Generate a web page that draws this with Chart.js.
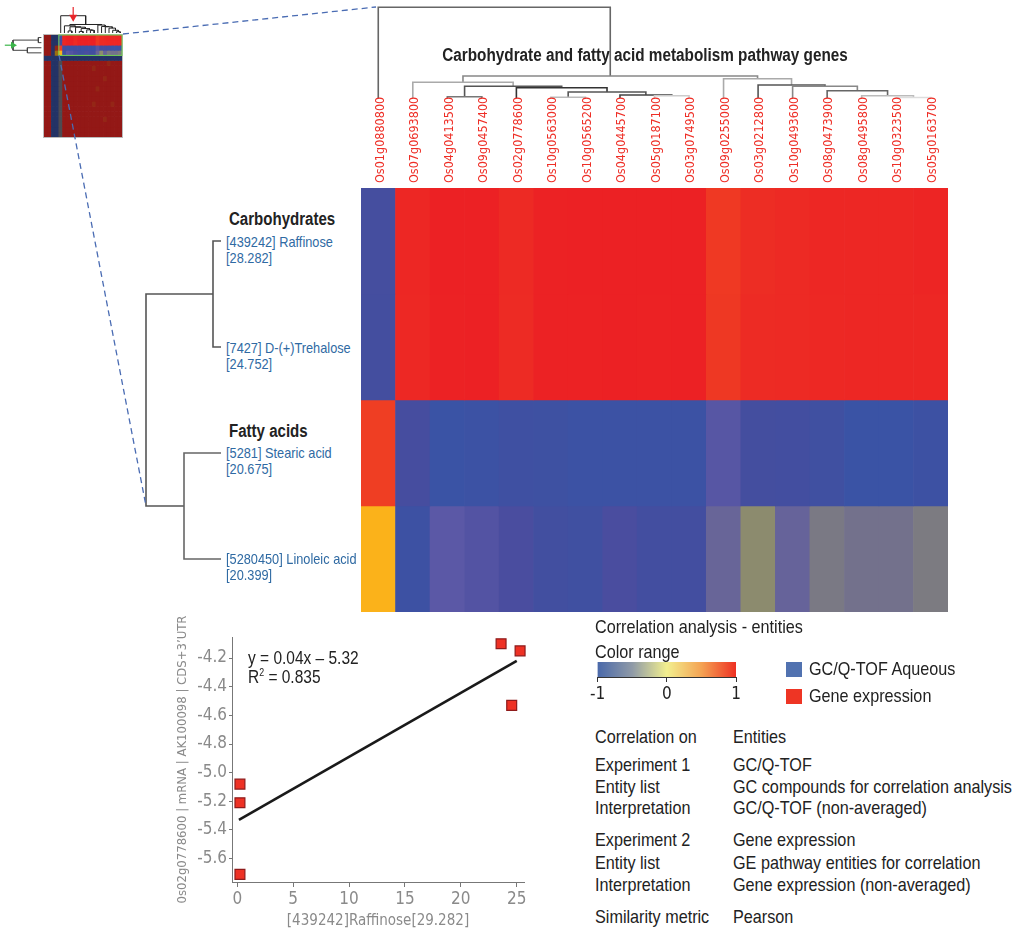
<!DOCTYPE html>
<html>
<head>
<meta charset="utf-8">
<script src="https://cdn.jsdelivr.net/npm/chart.js@4.4.1/dist/chart.umd.min.js"></script>
<style>
  html, body { margin: 0; padding: 0; background: #fff; }
  #page { position: relative; width: 1014px; height: 932px; overflow: hidden;
          font-family: "Liberation Sans", Arial, sans-serif; color: #222; }
  canvas { position: absolute; }
  /* Arial squeezed horizontally looks like the narrow face used in the original */
  .t { position: absolute; white-space: nowrap; line-height: 1;
       transform: translateY(-50%) scaleX(0.885); transform-origin: 0 50%; }
  .ttl { font-weight: bold; font-size: 18px; color: #222;
         transform: translate(-50%, -50%) scaleX(0.85); transform-origin: 50% 50%; }
  .grp { font-weight: bold; font-size: 17.5px; color: #222; transform: translateY(-50%) scaleX(0.86); }
  .cmp { font-size: 14.5px; color: #2f6aa3; transform: translateY(-50%) scaleX(0.88); }
  .info { font-size: 18.5px; color: #222; transform: translateY(-50%) scaleX(0.875); }
  .eq { font-size: 17.5px; color: #222; }
  .sw { position: absolute; width: 16px; height: 15px; }
</style>
</head>
<body>
<div id="page">
  <canvas id="thumb"   width="130" height="142" style="left:0px;top:0px"></canvas>
  <canvas id="colTree" width="600" height="102" style="left:355px;top:0px"></canvas>
  <canvas id="heat"    width="600" height="530" style="left:355px;top:90px"></canvas>
  <canvas id="rowTree" width="86"  height="424" style="left:138px;top:188px"></canvas>
  <canvas id="scatter" width="380" height="320" style="left:160px;top:610px"></canvas>
  <canvas id="cbar"    width="160" height="50"  style="left:588px;top:655px"></canvas>

  <div class="t ttl" style="left:645px;top:55px">Carbohydrate and fatty acid metabolism pathway genes</div>

  <div class="t grp" style="left:229px;top:220px">Carbohydrates</div>
  <div class="t cmp" style="left:226px;top:242px">[439242] Raffinose</div>
  <div class="t cmp" style="left:226px;top:258px">[28.282]</div>
  <div class="t cmp" style="left:226px;top:348px">[7427] D-(+)Trehalose</div>
  <div class="t cmp" style="left:226px;top:364px">[24.752]</div>
  <div class="t grp" style="left:229px;top:432px">Fatty acids</div>
  <div class="t cmp" style="left:226px;top:453px">[5281] Stearic acid</div>
  <div class="t cmp" style="left:226px;top:469px">[20.675]</div>
  <div class="t cmp" style="left:226px;top:559px">[5280450] Linoleic acid</div>
  <div class="t cmp" style="left:226px;top:575px">[20.399]</div>

  <div class="t eq" style="left:248px;top:659px">y = 0.04x &ndash; 5.32</div>
  <div class="t eq" style="left:248px;top:677px">R<sup style="font-size:10px">2</sup> = 0.835</div>

  <div class="t info" style="left:595px;top:627px">Correlation analysis - entities</div>
  <div class="t info" style="left:595px;top:652px">Color range</div>
  <div class="sw" style="left:786px;top:662px;background:#5172b0"></div>
  <div class="t info" style="left:809px;top:669px">GC/Q-TOF Aqueous</div>
  <div class="sw" style="left:786px;top:689px;background:#ee3524"></div>
  <div class="t info" style="left:809px;top:696px">Gene expression</div>

  <div class="t info" style="left:595px;top:737px">Correlation on</div>
  <div class="t info" style="left:733px;top:737px">Entities</div>
  <div class="t info" style="left:595px;top:765px">Experiment 1</div>
  <div class="t info" style="left:733px;top:765px">GC/Q-TOF</div>
  <div class="t info" style="left:595px;top:787px">Entity list</div>
  <div class="t info" style="left:733px;top:787px">GC compounds for correlation analysis</div>
  <div class="t info" style="left:595px;top:808px">Interpretation</div>
  <div class="t info" style="left:733px;top:808px">GC/Q-TOF (non-averaged)</div>
  <div class="t info" style="left:595px;top:840px">Experiment 2</div>
  <div class="t info" style="left:733px;top:840px">Gene expression</div>
  <div class="t info" style="left:595px;top:863px">Entity list</div>
  <div class="t info" style="left:733px;top:863px">GE pathway entities for correlation</div>
  <div class="t info" style="left:595px;top:885px">Interpretation</div>
  <div class="t info" style="left:733px;top:885px">Gene expression (non-averaged)</div>
  <div class="t info" style="left:595px;top:917px">Similarity metric</div>
  <div class="t info" style="left:733px;top:917px">Pearson</div>

  <svg width="1014" height="932" style="position:absolute;left:0;top:0;pointer-events:none">
    <line x1="123" y1="34" x2="376" y2="7"   stroke="#4a6cb3" stroke-width="1.3" stroke-dasharray="6 4"/>
    <line x1="59"  y1="55" x2="146" y2="506" stroke="#4a6cb3" stroke-width="1.3" stroke-dasharray="6 4"/>
  </svg>
</div>

<script>
// ---- data ----
var genes = ['Os01g0880800', 'Os07g0693800', 'Os04g0413500', 'Os09g0457400', 'Os02g0778600',
             'Os10g0563000', 'Os10g0565200', 'Os04g0445700', 'Os05g0187100', 'Os03g0749500',
             'Os09g0255000', 'Os03g0212800', 'Os10g0493600', 'Os08g0473900', 'Os08g0495800',
             'Os10g0323500', 'Os05g0163700'];

// Pearson correlation of each compound with each gene (same order as genes)
var corrRaffinose = [-0.85, 0.95, 0.99, 0.99, 0.93, 0.98, 0.99, 0.99, 0.99, 0.99, 0.83, 0.91, 0.93, 0.95, 0.95, 0.95, 0.96];
var corrTrehalose = [-0.86, 0.94, 0.98, 0.99, 0.92, 0.98, 0.98, 0.99, 0.98, 0.99, 0.84, 0.92, 0.93, 0.94, 0.95, 0.95, 0.95];
var corrStearic   = [ 0.80, -0.83, -0.99, -0.97, -0.93, -0.94, -0.97, -0.97, -0.97, -0.97, -0.72, -0.87, -0.88, -0.92, -0.99, -0.99, -0.96];
var corrLinoleic  = [ 0.50, -0.96, -0.70, -0.74, -0.79, -0.90, -0.92, -0.79, -0.88, -0.88, -0.55, -0.25, -0.57, -0.40, -0.46, -0.46, -0.38];

// gene clustering: [childA, childB, distance]; 0..16 leaves, 17+ earlier merges
var colMerges = [[2, 3, 1.3], [5, 6, 0.7], [8, 9, 2.3], [7, 19, 3], [18, 20, 6], [4, 21, 10.3],
                 [17, 22, 11.7], [1, 23, 15.7], [15, 16, 0.5], [14, 25, 2.3], [13, 26, 7.3],
                 [12, 27, 11.7], [11, 28, 13], [10, 29, 19.3], [24, 30, 22], [0, 31, 90.7]];
// compound clustering: 0..3 leaves
var rowMerges = [[0, 1, 8], [2, 3, 37], [4, 5, 75]];

// overview thumbnail: codes per cell, rows 0-3 continue with the heatmap values
var thumbCode = { R: 0.95, r: 0.8, o: 0.5, g: -0.4, p: -0.7, b: -0.88, B: -1 };
var thumbRows = ['RRBB', 'RRBB', 'RRbr', 'RRbo',
  'BBBBBBBBBBBBBBBBBBBBB',
  'RRBBgRRRRRRRRRRRRrRRR', 'RRBBgRRRRRRRRrRRRRRRR', 'RRBBgRRRRRRRRRRRRRRRR',
  'RRBBgRRRRRRRRRRRrRRRR', 'RRBBgRRRRRRRRRRRRRRRR', 'RRBBgRRRRRRRRRrRRRRRR',
  'RRBBgRRRRRRRRRRRRRRRR', 'RRBBgRRRRRRRRRRRRRRRR', 'RRBBgRRRRRRRRrRRRRrRR',
  'RRBBgRRRRRRRRRRRRRRRR', 'RRBBgRRRRRRRRRRRRRRRR', 'RRBBgRRRRRRRRRRRrRRRR',
  'RRBBgRRRRRRRRRRRRRRRR', 'RRBBgRRRRRRRRRRRRRRRR', 'RRBBgRRRRRRRRRRRRRRRR'];

// scatter: Raffinose vs Os02g0778600
var scatterX = [0.24, 0.24, 0.24, 23.6, 25.3, 24.55];
var scatterY = [-5.08, -5.21, -5.71, -4.10, -4.15, -4.53];
var fitX = [0.15, 25.0];
var fitY = [-5.33, -4.22];
var scatterXTicks = [0, 5, 10, 15, 20, 25];
var scatterYTicks = [-4.2, -4.4, -4.6, -4.8, -5.0, -5.2, -5.4, -5.6];
var colorRangeTicks = [-1, 0, 1];

// ---- styles ----
var FONT = '"DejaVu Sans Condensed", "Liberation Sans", sans-serif';
Chart.defaults.font.family = FONT;
Chart.defaults.animation = false;

var heatRows = [corrRaffinose, corrTrehalose, corrStearic, corrLinoleic];
var colShade = ['#777', '#bbb', '#ccc', '#444', '#555', '#333', '#555', '#aaa',
                '#ddd', '#bbb', '#666', '#888', '#555', '#aaa', '#888', '#666'];
var rowShade = ['#555', '#666', '#555'];

var corrStops = [[-1, [57, 83, 165]], [-0.9, [66, 79, 160]], [-0.8, [72, 76, 158]], [-0.7, [91, 88, 166]],
                 [-0.55, [104, 101, 152]], [-0.4, [122, 121, 132]], [-0.25, [140, 139, 110]],
                 [0, [240, 238, 144]], [0.5, [251, 178, 26]], [0.8, [239, 62, 35]], [1, [236, 31, 36]]];

function corrRGB(v) {
  for (var i = 0; i < corrStops.length - 1; i++) {
    var a = corrStops[i], b = corrStops[i + 1];
    if (v <= b[0]) {
      var f = Math.max(0, (v - a[0]) / (b[0] - a[0]));
      return [0, 1, 2].map(function (k) { return a[1][k] + (b[1][k] - a[1][k]) * f; });
    }
  }
  return corrStops[corrStops.length - 1][1];
}
function corrColor(v, dim) {
  var c = corrRGB(v), m = dim ? 0.62 : 1;
  return 'rgb(' + Math.round(c[0] * m) + ',' + Math.round(c[1] * m) + ',' + Math.round(c[2] * m) + ')';
}

// dendrogram polylines from a merge list
function treeLines(merges, nLeaves) {
  var pos = [], hgt = [], lines = [];
  for (var i = 0; i < nLeaves; i++) { pos.push(i); hgt.push(0); }
  merges.forEach(function (m) {
    var a = m[0], b = m[1], h = m[2];
    lines.push([[pos[a], hgt[a]], [pos[a], h], [pos[b], h], [pos[b], hgt[b]]]);
    pos.push((pos[a] + pos[b]) / 2);
    hgt.push(h);
  });
  return { lines: lines, rootPos: pos[pos.length - 1], rootH: hgt[hgt.length - 1] };
}

function lineSets(lines, map, shades, width) {
  return lines.map(function (l, k) {
    return {
      type: 'scatter', showLine: true, clip: false,
      data: l.map(map),
      borderColor: shades[k % shades.length], borderWidth: width,
      pointRadius: 0, tension: 0
    };
  });
}

var colTree = treeLines(colMerges, genes.length);
var rowTree = treeLines(rowMerges, heatRows.length);

// ---- heatmap ----
new Chart(document.getElementById('heat'), {
  type: 'bar',
  data: {
    labels: genes,
    datasets: heatRows.map(function (row, r) {
      return {
        data: row.map(function () { return [r, r + 1]; }),
        backgroundColor: row.map(function (v) { return corrColor(v); }),
        borderWidth: 0, barPercentage: 1, categoryPercentage: 1, grouped: false
      };
    })
  },
  options: {
    responsive: false,
    layout: { padding: { left: 6, right: 7, top: 0, bottom: 8 } },
    plugins: { legend: { display: false }, tooltip: { enabled: false } },
    scales: {
      x: {
        position: 'top', offset: true,
        grid: { display: false, drawTicks: false }, border: { display: false },
        ticks: { autoSkip: false, minRotation: 90, maxRotation: 90, padding: 5, labelOffset: 17,
                 color: '#ee2e26', font: { size: 12.5 } },
        afterFit: function (s) { s.height = 98; }
      },
      y: { min: 0, max: 4, reverse: true, display: false }
    }
  }
});

// ---- gene dendrogram ----
new Chart(document.getElementById('colTree'), {
  type: 'scatter',
  data: { datasets: lineSets(colTree.lines, function (p) { return { x: p[0], y: p[1] }; }, colShade, 1.6) },
  options: {
    responsive: false,
    layout: { padding: { left: 6, right: 7, top: 6, bottom: 4 } },
    plugins: { legend: { display: false }, tooltip: { enabled: false } },
    scales: {
      x: { type: 'linear', min: -0.5, max: genes.length - 0.5, display: false },
      y: { type: 'linear', min: 0, max: 92, display: false }
    }
  }
});

// ---- compound dendrogram ----
new Chart(document.getElementById('rowTree'), {
  type: 'scatter',
  data: { datasets: lineSets(rowTree.lines, function (p) { return { x: p[1], y: p[0] }; }, rowShade, 1.6) },
  options: {
    responsive: false,
    layout: { padding: { left: 0, right: 3, top: 0, bottom: 0 } },
    plugins: { legend: { display: false }, tooltip: { enabled: false } },
    scales: {
      x: { type: 'linear', min: 0, max: 83, reverse: true, display: false },
      y: { type: 'linear', min: -0.5, max: heatRows.length - 0.5, reverse: true, display: false }
    }
  }
});

// ---- overview thumbnail ----
var TH_COL0 = thumbRows[0].length;          // first selected column
var TH_NCOL = TH_COL0 + genes.length;
var thumbCols = [];
for (var ci = 0; ci < TH_NCOL; ci++) thumbCols.push(ci);
var thumbSets = thumbRows.map(function (str, r) {
  var pts = [], cols = [];
  thumbCols.forEach(function (c) {
    var sel = r < heatRows.length && c >= TH_COL0;
    var v = c < str.length ? thumbCode[str[c]] : heatRows[r][c - TH_COL0];
    pts.push({ x: c, y: [r - 0.5, r + 0.5] });
    cols.push(corrColor(v, !sel));
  });
  return { type: 'bar', data: pts, backgroundColor: cols, borderWidth: 0,
           barThickness: 3.8, grouped: false };
});
// small dendrograms around the thumbnail, same trees shrunk (gene tree on a root scale)
var topMap = function (p) { return { x: p[0] + TH_COL0, y: -0.89 - Math.sqrt(p[1]) * 0.356 }; };
var leftMap = function (p) { return { x: -1.2 - p[1] * 0.102, y: p[0] }; };
thumbSets = thumbSets
  .concat(lineSets(colTree.lines, topMap, ['#222'], 1))
  .concat(lineSets(rowTree.lines, leftMap, ['#444'], 1));
var topRoot = topMap([colTree.rootPos, colTree.rootH]);
var leftRoot = leftMap([rowTree.rootPos, rowTree.rootH]);
thumbSets.push({ type: 'scatter', order: -1, showLine: true, clip: false, borderColor: '#e8262b', borderWidth: 1.2,
  pointRadius: 0, data: [{ x: topRoot.x, y: topRoot.y - 1.7 }, { x: topRoot.x, y: topRoot.y }] });
thumbSets.push({ type: 'scatter', order: -1, showLine: true, clip: false, borderColor: '#3bb54a', borderWidth: 1.2,
  pointRadius: 0, data: [{ x: leftRoot.x - 2.2, y: leftRoot.y }, { x: leftRoot.x, y: leftRoot.y }] });

// frame, selection box and the two arrow heads (points outside the chart area are not drawn by Chart.js)
var thumbFrame = {
  id: 'thumbFrame',
  afterDatasetsDraw: function (chart) {
    var c = chart.ctx, a = chart.chartArea, xs = chart.scales.x, ys = chart.scales.y;
    c.save();
    c.strokeStyle = '#bbb'; c.lineWidth = 1;
    c.strokeRect(a.left - 0.5, a.top - 0.5, a.right - a.left + 1, a.bottom - a.top + 1);
    c.strokeStyle = '#6fd24f'; c.lineWidth = 1;
    var x0 = xs.getPixelForValue(TH_COL0 - 0.5), x1 = xs.getPixelForValue(TH_NCOL - 0.5);
    var y0 = ys.getPixelForValue(-0.5), y1 = ys.getPixelForValue(heatRows.length - 0.5);
    c.strokeRect(x0, y0, x1 - x0, y1 - y0);

    var tx = xs.getPixelForValue(topRoot.x), ty = ys.getPixelForValue(topRoot.y);
    c.fillStyle = '#e8262b';
    c.beginPath();
    c.moveTo(tx - 4, ty - 1); c.lineTo(tx + 4, ty - 1); c.lineTo(tx, ty + 6);
    c.closePath(); c.fill();

    var lx = xs.getPixelForValue(leftRoot.x), ly = ys.getPixelForValue(leftRoot.y);
    c.fillStyle = '#3bb54a';
    c.beginPath();
    c.moveTo(lx - 2, ly - 3.5); c.lineTo(lx - 2, ly + 3.5); c.lineTo(lx + 4, ly);
    c.closePath(); c.fill();
    c.restore();
  }
};

new Chart(document.getElementById('thumb'), {
  type: 'bar',
  data: { datasets: thumbSets },
  plugins: [thumbFrame],
  options: {
    responsive: false,
    layout: { padding: { left: 44, right: 8, top: 35, bottom: 5 } },
    plugins: { legend: { display: false }, tooltip: { enabled: false } },
    scales: {
      x: { type: 'linear', offset: false, min: -0.5, max: TH_NCOL - 0.5, display: false,
           afterBuildTicks: function (s) { s.ticks = thumbCols.map(function (v) { return { value: v }; }); } },
      y: { type: 'linear', offset: false, min: -0.5, max: thumbRows.length - 0.5, reverse: true, display: false }
    }
  }
});

// ---- scatter plot ----
var grey = '#8a8a8a';
new Chart(document.getElementById('scatter'), {
  type: 'scatter',
  data: {
    datasets: [
      {
        data: scatterX.map(function (x, i) { return { x: x, y: scatterY[i] }; }),
        pointStyle: 'rect', pointRadius: 7, backgroundColor: '#ee3124',
        borderColor: '#8e1b1b', borderWidth: 1.2, clip: false
      },
      {
        type: 'line',
        data: fitX.map(function (x, i) { return { x: x, y: fitY[i] }; }),
        borderColor: '#1a1a1a', borderWidth: 2.6, pointRadius: 0
      }
    ]
  },
  options: {
    responsive: false,
    layout: { padding: { left: 0, right: 16, top: 27, bottom: 0 } },
    plugins: { legend: { display: false }, tooltip: { enabled: false } },
    scales: {
      x: {
        type: 'linear', min: -0.47, max: 25.65,
        afterBuildTicks: function (s) { s.ticks = scatterXTicks.map(function (v) { return { value: v }; }); },
        ticks: { color: grey, font: { size: 17 }, padding: 2 },
        grid: { drawOnChartArea: false, drawTicks: true, tickLength: 5, color: '#777' },
        border: { color: '#777', width: 1 },
        title: { display: true, text: '[439242]Raffinose[29.282]', color: grey, font: { size: 15 }, padding: 0 },
        afterFit: function (s) { s.height = 48; }
      },
      y: {
        type: 'linear', min: -5.763, max: -4.053,
        afterBuildTicks: function (s) { s.ticks = scatterYTicks.map(function (v) { return { value: v }; }); },
        ticks: { color: grey, font: { size: 17 }, padding: 2,
                 callback: function (v) { return v.toFixed(1); } },
        grid: { drawOnChartArea: false, drawTicks: true, tickLength: 3, color: '#777' },
        border: { color: '#777', width: 1 },
        title: { display: true, text: '0s02g0778600 | mRNA | AK100098 | CDS+3\u2019UTR', color: grey,
                 font: { size: 13 }, padding: { top: 15, bottom: 0 } },
        afterFit: function (s) { s.width = 72; }
      }
    }
  }
});

// ---- colour range bar ----
var gradientFill = {
  id: 'gradientFill',
  beforeDatasetsDraw: function (chart) {
    var c = chart.ctx, a = chart.chartArea;
    var g = c.createLinearGradient(a.left, 0, a.right, 0);
    g.addColorStop(0, '#4a69aa');
    g.addColorStop(0.25, '#8f9aa7');
    g.addColorStop(0.5, '#f2ef8f');
    g.addColorStop(0.75, '#f4a353');
    g.addColorStop(1, '#ee3123');
    c.save();
    c.fillStyle = g;
    c.fillRect(a.left, a.top, a.right - a.left, a.bottom - a.top);
    c.restore();
  }
};
new Chart(document.getElementById('cbar'), {
  type: 'scatter',
  data: { datasets: [{ data: [] }] },
  plugins: [gradientFill],
  options: {
    responsive: false,
    layout: { padding: { left: 7, right: 12, top: 7, bottom: 0 } },
    plugins: { legend: { display: false }, tooltip: { enabled: false } },
    scales: {
      x: {
        type: 'linear', min: -1, max: 1,
        afterBuildTicks: function (s) { s.ticks = colorRangeTicks.map(function (v) { return { value: v }; }); },
        ticks: { color: '#222', font: { size: 17 }, padding: 2 },
        grid: { drawOnChartArea: false, drawTicks: true, tickLength: 5, color: '#333' },
        border: { color: '#333', width: 1 },
        afterFit: function (s) { s.height = 28; }
      },
      y: { type: 'linear', min: 0, max: 1, display: false }
    }
  }
});
</script>
</body>
</html>
